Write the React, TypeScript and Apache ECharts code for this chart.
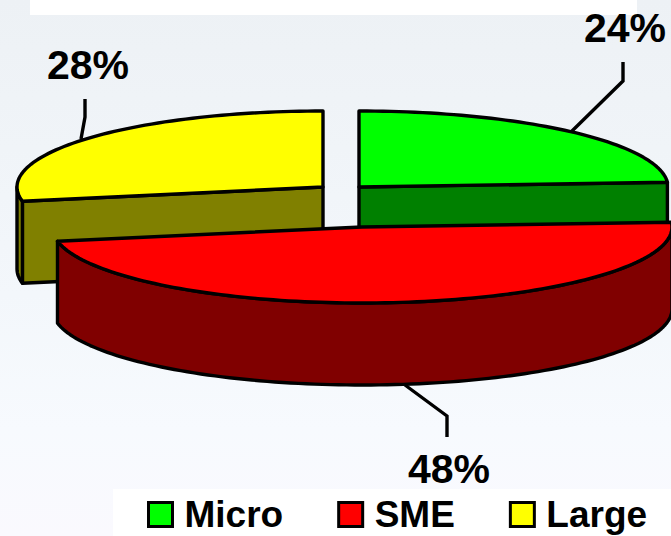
import React, { useEffect, useRef } from "react";
import * as echarts from "echarts";

const names = ["Micro", "SME", "Large"];
const values = [24, 48, 28];
const topColors = ["#00ff00", "#ff0000", "#ffff00"];
const wallColors = ["#008000", "#800000", "#808000"];
const drawOrder = [2, 0, 1];

// layout of the exploded 3-D pie (one entry per slice)
const centers = [[359, 187], [362, 227], [323, 187]];
const radiiX = [309, 310, 306];
const leaders = [
  [[571, 132], [623, 81], [623, 62]],
  [[405, 385], [447, 416], [447, 437]],
  [[81, 139], [85, 117], [85, 99]],
];
const labelAnchors = [[625, 28], [449, 469], [88, 65]];
const RY = 76;
const DEPTH = 82;
const LINE = 3.4;
const total = values.reduce((a, b) => a + b, 0);

function arcPoints(cx: number, cy: number, rx: number, a0: number, a1: number) {
  const pts: number[][] = [];
  const n = Math.max(2, Math.ceil((a1 - a0) / 1.5));
  for (let i = 0; i <= n; i++) {
    const r = ((a0 + ((a1 - a0) * i) / n) * Math.PI) / 180;
    pts.push([cx + rx * Math.sin(r), cy - RY * Math.cos(r)]);
  }
  return pts;
}

function makeRenderItem(idx: number) {
  return (_params: any, api: any) => {
    const v = api.value(0) as number;
    const start = (values.slice(0, idx).reduce((a, b) => a + b, 0) / total) * 360;
    const end = start + (v / total) * 360;
    const [cx, cy] = centers[idx];
    const rx = radiiX[idx];
    const stroke = { stroke: "#000", lineWidth: LINE, lineJoin: "round" };
    const wall = { ...stroke, fill: wallColors[idx] };
    const children: any[] = [];
    const cutFace = (a: number) => {
      const p = arcPoints(cx, cy, rx, a, a)[0];
      children.push({
        type: "polygon",
        shape: { points: [[cx, cy], p, [p[0], p[1] + DEPTH], [cx, cy + DEPTH]] },
        style: wall,
      });
    };
    if (Math.sin((start * Math.PI) / 180) < -1e-6) cutFace(start);
    if (Math.sin((end * Math.PI) / 180) > 1e-6) cutFace(end);
    const w0 = Math.max(start, 90);
    const w1 = Math.min(end, 270);
    if (w1 > w0) {
      const arc = arcPoints(cx, cy, rx, w0, w1);
      const low = arc.map((p) => [p[0], p[1] + DEPTH]).reverse();
      children.push({ type: "polygon", shape: { points: [...arc, ...low] }, style: wall });
    }
    children.push({
      type: "polygon",
      shape: { points: [[cx, cy], ...arcPoints(cx, cy, rx, start, end)] },
      style: { ...stroke, fill: topColors[idx] },
    });
    children.push({
      type: "polyline",
      shape: { points: leaders[idx] },
      style: { stroke: "#000", lineWidth: LINE, fill: "none" },
    });
    children.push({
      type: "text",
      x: labelAnchors[idx][0],
      y: labelAnchors[idx][1],
      style: {
        text: `${v}%`,
        fill: "#000",
        font: 'bold 41px "Liberation Sans", Arial, sans-serif',
        align: "center",
        verticalAlign: "middle",
      },
    });
    return { type: "group", children };
  };
}

export default function App() {
  const ref = useRef<HTMLDivElement>(null);
  useEffect(() => {
    document.body.style.margin = "0";
    const chart = echarts.init(ref.current!, undefined, { renderer: "svg" });
    chart.setOption({
      animation: false,
      backgroundColor: {
        type: "linear",
        x: 0,
        y: 0,
        x2: 0,
        y2: 1,
        colorStops: [
          { offset: 0, color: "#edf1f5" },
          { offset: 0.55, color: "#f3f7fb" },
          { offset: 0.8, color: "#f7fafe" },
          { offset: 1, color: "#faf9fe" },
        ],
      },
      graphic: [
        { type: "rect", z: -1, shape: { x: 30, y: 0, width: 607, height: 15 }, style: { fill: "#fff" } },
        { type: "rect", z: -1, shape: { x: 113, y: 489, width: 558, height: 47 }, style: { fill: "#fff" } },
      ],
      legend: {
        data: names,
        left: 147,
        top: 496,
        padding: 0,
        itemGap: 54,
        itemWidth: 24,
        itemHeight: 24,
        selectedMode: false,
        icon: "rect",
        itemStyle: { borderColor: "#000", borderWidth: 3 },
        textStyle: {
          fontFamily: '"Liberation Sans", Arial, sans-serif',
          fontWeight: "bold",
          fontSize: 37,
          color: "#000",
          padding: [0, 0, 0, 7],
        },
      },
      series: drawOrder.map((i) => ({
        type: "custom",
        name: names[i],
        coordinateSystem: "none",
        clip: false,
        silent: true,
        itemStyle: { color: topColors[i] },
        data: [[values[i]]],
        renderItem: makeRenderItem(i),
      })),
    });
    return () => chart.dispose();
  }, []);
  return <div ref={ref} style={{ width: 671, height: 536 }} />;
}
